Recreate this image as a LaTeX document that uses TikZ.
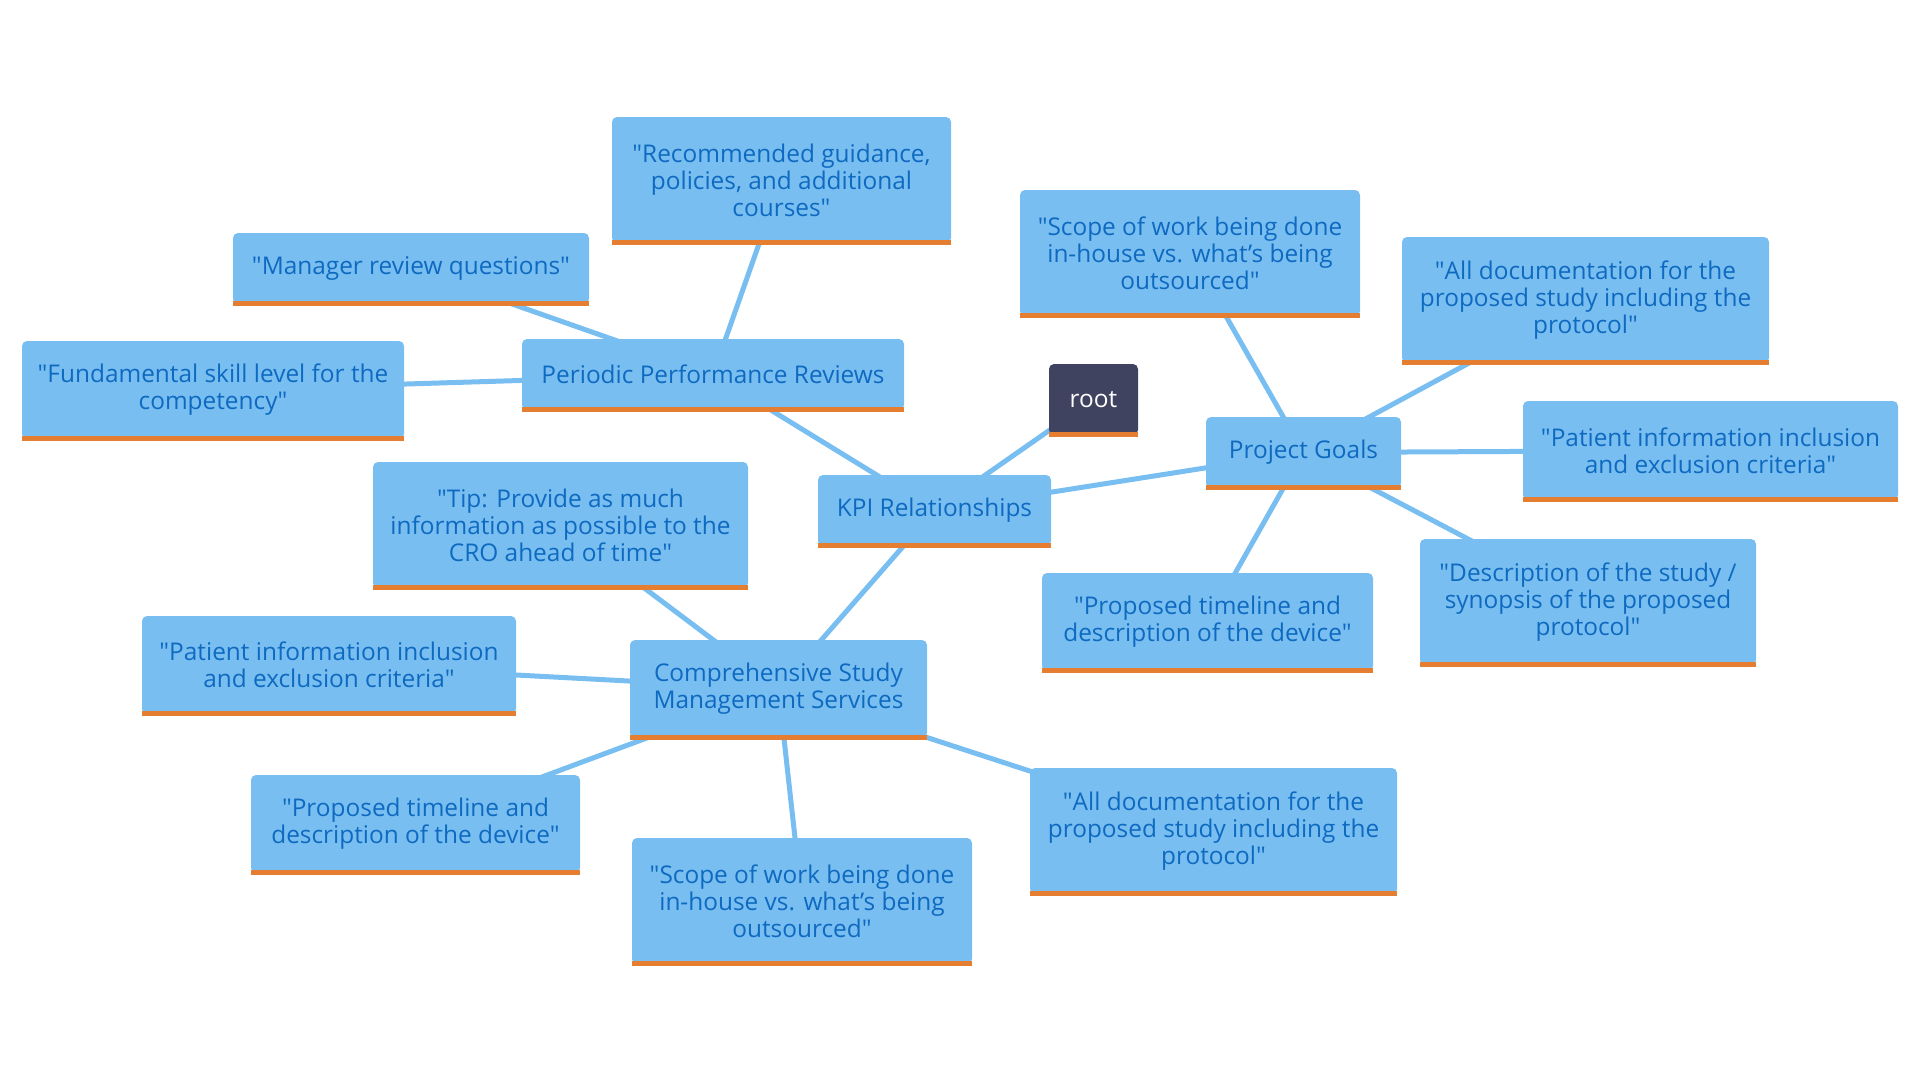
\documentclass[tikz,border=0pt]{standalone}
\usepackage{fontspec}
\setmainfont{Open Sans}
\usetikzlibrary{backgrounds}
\definecolor{boxblue}{HTML}{79BEF1}
\definecolor{txtblue}{HTML}{0E6AC0}
\definecolor{rootdark}{HTML}{404360}
\definecolor{barorange}{HTML}{E57E31}
\newcommand\dq{\textquotedbl}
\begin{document}
\begin{tikzpicture}[x=1pt,y=-1pt,
  box/.style={rounded corners=5pt, fill=boxblue, text=txtblue, align=center, inner sep=0pt,
    font=\fontsize{24.4}{27}\selectfont},
  rootbox/.style={box, fill=rootdark, text=white},
  link/.style={draw=boxblue, line width=5pt}]
\useasboundingbox (0,0) rectangle (1920,1080);
\node[rootbox, minimum width=89pt, minimum height=71pt] (root) at (1093.5,399.5) {root};
\node[box, minimum width=233pt, minimum height=71pt] (kpi) at (934.5,510.5) {KPI Relationships};
\node[box, minimum width=382pt, minimum height=71pt] (ppr) at (713,374.5) {Periodic Performance Reviews};
\node[box, minimum width=339pt, minimum height=126pt] (rec) at (781.5,180) {\dq Recommended guidance,\\policies, and additional\\courses\dq};
\node[box, minimum width=356pt, minimum height=71pt] (mgr) at (411,268.5) {\dq Manager review questions\dq};
\node[box, minimum width=382pt, minimum height=98pt] (fund) at (213,390) {\dq Fundamental skill level for the\\competency\dq};
\node[box, minimum width=375pt, minimum height=126pt] (tip) at (560.5,525) {\dq Tip: Provide as much\\information as possible to the\\CRO ahead of time\dq};
\node[box, minimum width=297pt, minimum height=98pt] (comp) at (778.5,689) {Comprehensive Study\\Management Services};
\node[box, minimum width=374pt, minimum height=98pt] (patl) at (329,665) {\dq Patient information inclusion\\and exclusion criteria\dq};
\node[box, minimum width=329pt, minimum height=98pt] (propl) at (415.5,824) {\dq Proposed timeline and\\description of the device\dq};
\node[box, minimum width=340pt, minimum height=126pt] (scopeb) at (802,901) {\dq Scope of work being done\\in-house vs. what's being\\outsourced\dq};
\node[box, minimum width=367pt, minimum height=126pt] (allb) at (1213.5,831) {\dq All documentation for the\\proposed study including the\\protocol\dq};
\node[box, minimum width=195pt, minimum height=71pt] (pg) at (1303.5,452.5) {Project Goals};
\node[box, minimum width=340pt, minimum height=126pt] (scopet) at (1190,253) {\dq Scope of work being done\\in-house vs. what's being\\outsourced\dq};
\node[box, minimum width=367pt, minimum height=126pt] (allt) at (1585.5,300) {\dq All documentation for the\\proposed study including the\\protocol\dq};
\node[box, minimum width=375pt, minimum height=99pt] (patr) at (1710.5,450.5) {\dq Patient information inclusion\\and exclusion criteria\dq};
\node[box, minimum width=336pt, minimum height=126pt] (desc) at (1588,602) {\dq Description of the study /\\synopsis of the proposed\\protocol\dq};
\node[box, minimum width=331pt, minimum height=98pt] (propr) at (1207.5,622) {\dq Proposed timeline and\\description of the device\dq};
\foreach \n in {root,kpi,ppr,rec,mgr,fund,tip,comp,patl,propl,scopeb,allb,pg,scopet,allt,patr,desc,propr}
  \fill[barorange] ([yshift=-2pt]\n.south west) rectangle ([yshift=3pt]\n.south east);
\begin{scope}[on background layer]
\draw[link] (kpi.center) -- (root.center);
\draw[link] (kpi.center) -- (ppr.center);
\draw[link] (kpi.center) -- (comp.center);
\draw[link] (kpi.center) -- (pg.center);
\draw[link] (ppr.center) -- (rec.center);
\draw[link] (ppr.center) -- (mgr.center);
\draw[link] (ppr.center) -- (fund.center);
\draw[link] (comp.center) -- (tip.center);
\draw[link] (comp.center) -- (patl.center);
\draw[link] (comp.center) -- (propl.center);
\draw[link] (comp.center) -- (scopeb.center);
\draw[link] (comp.center) -- (allb.center);
\draw[link] (pg.center) -- (scopet.center);
\draw[link] (pg.center) -- (allt.center);
\draw[link] (pg.center) -- (patr.center);
\draw[link] (pg.center) -- (desc.center);
\draw[link] (pg.center) -- (propr.center);
\end{scope}
\end{tikzpicture}
\end{document}
